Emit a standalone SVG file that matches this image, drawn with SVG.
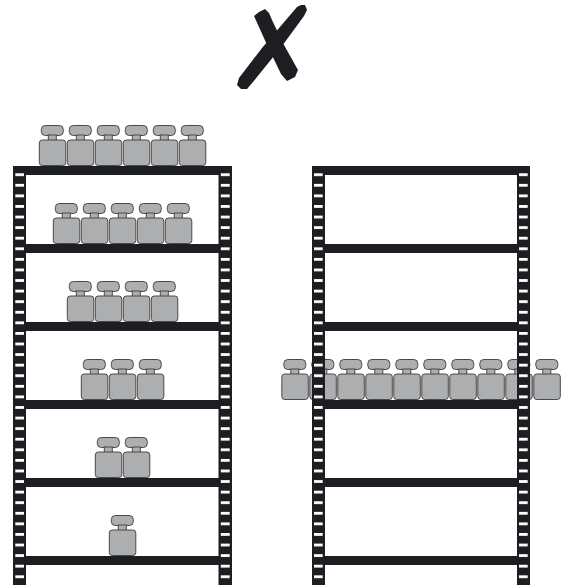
<svg xmlns="http://www.w3.org/2000/svg" xmlns:xlink="http://www.w3.org/1999/xlink" width="563" height="585" viewBox="0 0 563 585">
  <style>
    .bar { fill: #1d1e21; }
    .post { fill: #1d1e21; }
    .holes { fill: url(#holes); }
    .wt { fill: #adaeb0; stroke: #48494b; stroke-width: 1; }
    .mark { fill: #1d1e21; }
  </style>
  <defs>
    <!-- punched slots along each upright -->
    <pattern id="holes" patternUnits="userSpaceOnUse" x="0" y="173.3" width="563" height="10.58">
      <rect x="0" y="0" width="563" height="2.8" fill="#ffffff"/>
    </pattern>
    <!-- one weight, origin at bottom-left of its body -->
    <g id="weight">
      <rect class="wt" x="2.5" y="-40.5" width="22" height="10" rx="4"/>
      <rect class="wt" x="9.5" y="-31" width="8" height="5.5"/>
      <rect class="wt" x="0.5" y="-26" width="26.5" height="25.5" rx="3"/>
    </g>
  </defs>

  <rect width="563" height="585" fill="#ffffff"/>

  <!-- cross mark -->
  <g id="cross">
    <path class="mark" d="M254 16 L259 12 L265 9 L269 13 L272 20 L284 45 L298 70 L295 77 L287 81 L281 74 L268 47 Z"/>
    <path class="mark" d="M297 7 L301 5 L305 5 L307 10 L304 16 L282 46 L253 82 L247 89 L241 89 L237 85 L239 78 L262 48 Z"/>
  </g>

  <!-- left rack: loaded in a pyramid -->
  <g id="rack-left">
    <g id="rack-left-weights">
      <use xlink:href="#weight" x="38.8" y="166"/>
      <use xlink:href="#weight" x="66.8" y="166"/>
      <use xlink:href="#weight" x="94.8" y="166"/>
      <use xlink:href="#weight" x="122.8" y="166"/>
      <use xlink:href="#weight" x="150.8" y="166"/>
      <use xlink:href="#weight" x="178.8" y="166"/>

      <use xlink:href="#weight" x="52.8" y="244"/>
      <use xlink:href="#weight" x="80.8" y="244"/>
      <use xlink:href="#weight" x="108.8" y="244"/>
      <use xlink:href="#weight" x="136.8" y="244"/>
      <use xlink:href="#weight" x="164.8" y="244"/>

      <use xlink:href="#weight" x="66.8" y="322"/>
      <use xlink:href="#weight" x="94.8" y="322"/>
      <use xlink:href="#weight" x="122.8" y="322"/>
      <use xlink:href="#weight" x="150.8" y="322"/>

      <use xlink:href="#weight" x="80.8" y="400"/>
      <use xlink:href="#weight" x="108.8" y="400"/>
      <use xlink:href="#weight" x="136.8" y="400"/>

      <use xlink:href="#weight" x="94.8" y="478"/>
      <use xlink:href="#weight" x="122.8" y="478"/>

      <use xlink:href="#weight" x="108.8" y="556"/>
    </g>
    <g id="rack-left-shelves">
      <rect class="bar" x="13" y="166" width="219" height="9"/>
      <rect class="bar" x="13" y="244" width="219" height="9"/>
      <rect class="bar" x="13" y="322" width="219" height="9"/>
      <rect class="bar" x="13" y="400" width="219" height="9"/>
      <rect class="bar" x="13" y="478" width="219" height="9"/>
      <rect class="bar" x="13" y="556" width="219" height="9"/>
    </g>
    <g id="rack-left-posts">
      <rect class="post" x="13" y="166" width="13" height="419"/>
      <rect class="holes" x="15.3" y="166" width="8.7" height="419"/>
      <rect class="post" x="218.5" y="166" width="13.5" height="419"/>
      <rect class="holes" x="220.8" y="166" width="8.9" height="419"/>
    </g>
  </g>

  <!-- right rack: whole load on one shelf -->
  <g id="rack-right">
    <g id="rack-right-weights">
      <use xlink:href="#weight" x="281.3" y="400"/>
      <use xlink:href="#weight" x="309.3" y="400"/>
      <use xlink:href="#weight" x="337.3" y="400"/>
      <use xlink:href="#weight" x="365.3" y="400"/>
      <use xlink:href="#weight" x="393.3" y="400"/>
      <use xlink:href="#weight" x="421.3" y="400"/>
      <use xlink:href="#weight" x="449.3" y="400"/>
      <use xlink:href="#weight" x="477.3" y="400"/>
      <use xlink:href="#weight" x="505.3" y="400"/>
      <use xlink:href="#weight" x="533.3" y="400"/>
    </g>
    <g id="rack-right-shelves">
      <rect class="bar" x="312" y="166" width="218" height="9"/>
      <rect class="bar" x="312" y="244" width="218" height="9"/>
      <rect class="bar" x="312" y="322" width="218" height="9"/>
      <rect class="bar" x="312" y="400" width="218" height="9"/>
      <rect class="bar" x="312" y="478" width="218" height="9"/>
      <rect class="bar" x="312" y="556" width="218" height="9"/>
    </g>
    <g id="rack-right-posts">
      <rect class="post" x="312" y="166" width="13" height="419"/>
      <rect class="holes" x="314" y="166" width="8.7" height="419"/>
      <rect class="post" x="517" y="166" width="13" height="419"/>
      <rect class="holes" x="519" y="166" width="8.7" height="419"/>
    </g>
  </g>
</svg>
